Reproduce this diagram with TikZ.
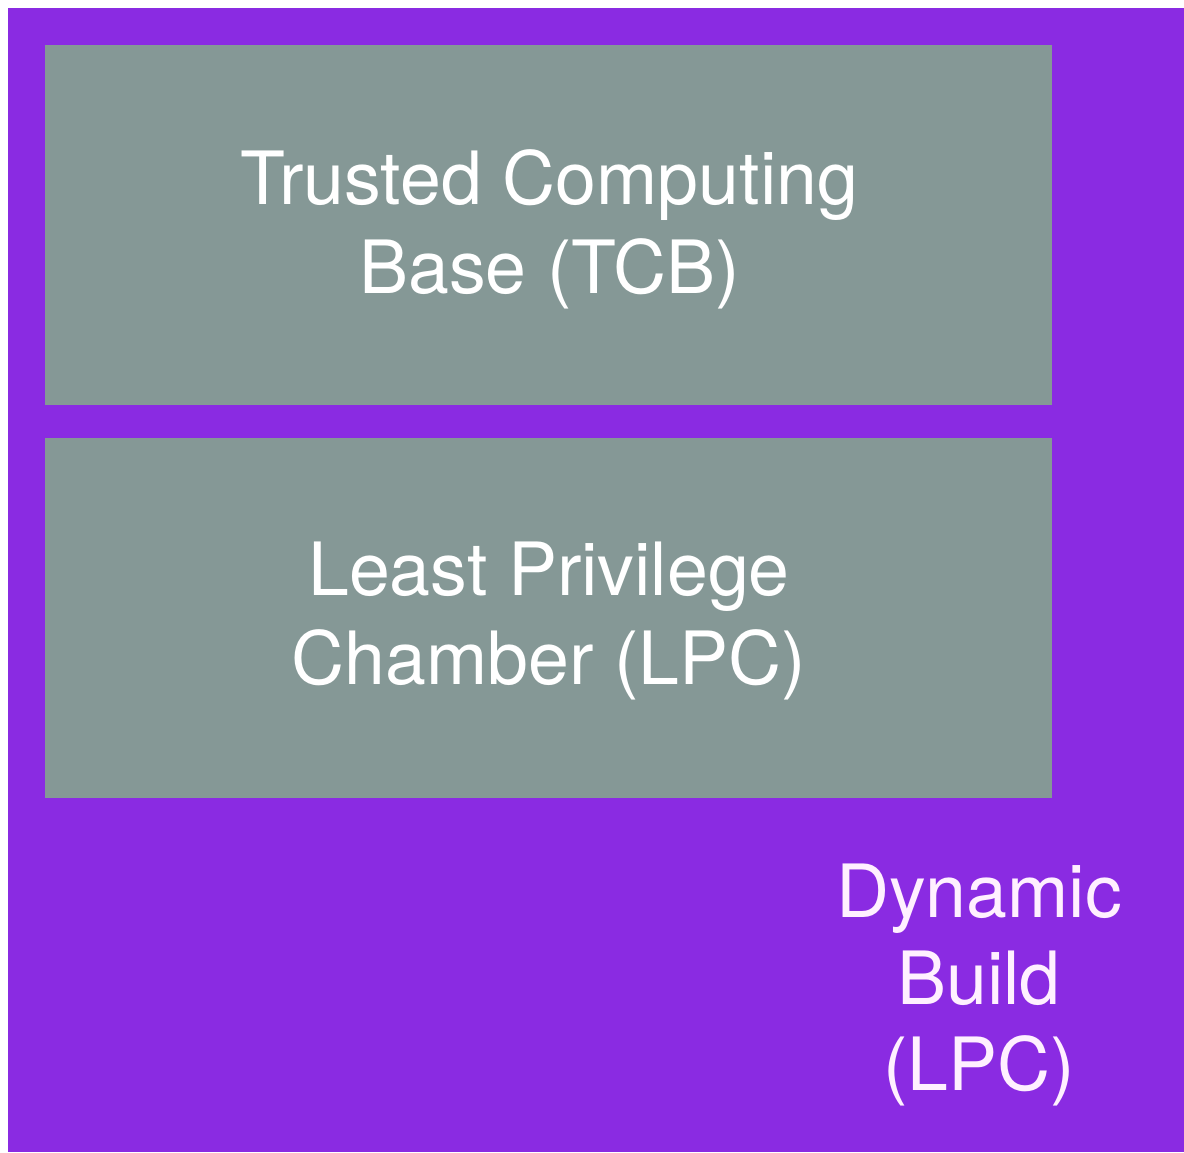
\documentclass[tikz,border=0pt]{standalone}
\usepackage{fontspec}
\setmainfont{TeX Gyre Heros}
\definecolor{bgpurple}{HTML}{8A2BE2}
\definecolor{boxgray}{HTML}{859896}
\definecolor{lilac}{HTML}{FFF0FF}
\tikzset{
  layer/.style={fill=boxgray, draw=none},
  bigtext/.style={text=white, align=center, inner sep=0pt, font=\fontsize{73.5}{89}\selectfont},
}
\begin{document}
\begin{tikzpicture}[x=1pt,y=1pt]
\useasboundingbox (0,0) rectangle (1184,1152);
\fill[white] (0,0) rectangle (1184,1152);
\fill[bgpurple] (8,0) rectangle (1184,1144);
\path[layer] (45,747) rectangle (1052,1107);
\path[layer] (45,354) rectangle (1052,714);
\node[bigtext] (tcb) at (549.5,923) {Trusted Computing\\Base (TCB)};
\node[bigtext] (lpc) at (549,531) {Least Privilege\\Chamber (LPC)};
\node[bigtext, text=lilac, font=\fontsize{73.5}{87}\selectfont] (dyn) at (979,167) {Dynamic\\Build\\(LPC)};
\end{tikzpicture}
\end{document}
